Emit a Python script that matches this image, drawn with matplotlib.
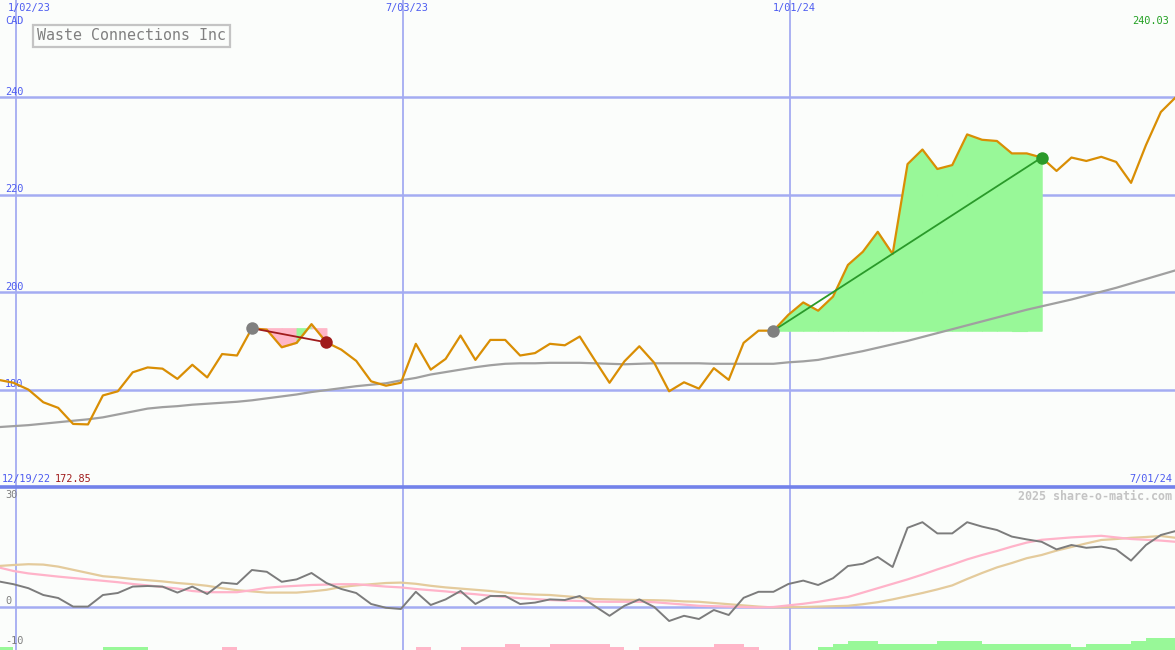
import numpy as np
import pandas as pd
import matplotlib
matplotlib.use('Agg')
import matplotlib.pyplot as plt

# weekly closes, Waste Connections (CAD)
dates = pd.date_range('2022-12-25', periods=80, freq='7D')
price = [182.0, 181.4, 180.0, 177.4, 176.25, 172.95, 172.85, 178.8, 179.65, 183.55,
         184.55, 184.3, 182.2, 185.1, 182.5, 187.3, 187.0, 192.6, 192.3, 188.7,
         189.6, 193.45, 189.7, 188.2, 185.9, 181.7, 180.8, 181.4, 189.4, 184.1,
         186.3, 191.1, 186.1, 190.2, 190.2, 187.0, 187.5, 189.4, 189.1, 190.9,
         186.1, 181.4, 185.8, 188.9, 185.5, 179.65, 181.5, 180.2, 184.4, 182.0,
         189.6, 192.1, 192.1, 195.35, 197.9, 196.2, 199.1, 205.6, 208.3, 212.4,
         207.85, 226.3, 229.3, 225.3, 226.1, 232.4, 231.3, 231.05, 228.5, 228.5,
         227.65, 224.9, 227.65, 226.95, 227.8, 226.75, 222.45, 230.2, 237.0, 240.03]
ma_line = [172.3, 172.5, 172.7, 173.0, 173.3, 173.6, 173.9, 174.3, 174.9, 175.5,
           176.1, 176.4, 176.6, 176.9, 177.1, 177.3, 177.5, 177.8, 178.2, 178.6,
           179.0, 179.5, 179.9, 180.3, 180.7, 181.0, 181.3, 181.9, 182.4, 183.1,
           183.6, 184.1, 184.6, 185.0, 185.3, 185.4, 185.4, 185.5, 185.5, 185.5,
           185.4, 185.3, 185.2, 185.3, 185.4, 185.4, 185.4, 185.4, 185.3, 185.3,
           185.3, 185.3, 185.3, 185.6, 185.8, 186.1, 186.7, 187.3, 187.9, 188.6,
           189.3, 190.0, 190.8, 191.6, 192.4, 193.2, 194.0, 194.8, 195.6, 196.4,
           197.1, 197.8, 198.5, 199.3, 200.1, 200.9, 201.8, 202.7, 203.6, 204.5]

# lower panel
osc = [6.4, 5.7, 4.7, 3.0, 2.25, 0.1, 0.1, 3.0, 3.5, 5.1,
       5.25, 5.1, 3.6, 5.1, 3.25, 6.1, 5.75, 9.25, 8.8, 6.3,
       6.9, 8.5, 6.0, 4.5, 3.5, 0.75, -0.2, -0.5, 3.8, 0.5,
       1.9, 4.0, 0.75, 2.75, 2.75, 0.75, 1.1, 1.9, 1.75, 2.75,
       0.25, -2.2, 0.3, 1.9, 0.0, -3.5, -2.2, -3.0, -0.75, -2.0,
       2.3, 3.8, 3.8, 5.75, 6.6, 5.5, 7.2, 10.25, 10.8, 12.5,
       10.0, 19.8, 21.2, 18.4, 18.4, 21.2, 20.1, 19.25, 17.6, 16.9,
       16.3, 14.4, 15.5, 14.8, 15.1, 14.4, 11.6, 15.5, 18.0, 19.0]
osc_fast = [9.9, 9.0, 8.4, 8.0, 7.6, 7.25, 6.9, 6.55, 6.2, 5.75,
            5.4, 5.0, 4.6, 4.0, 3.7, 3.7, 3.7, 4.2, 4.8, 5.1,
            5.3, 5.5, 5.6, 5.7, 5.7, 5.4, 5.1, 4.9, 4.5, 4.2,
            3.9, 3.5, 3.2, 2.8, 2.5, 2.2, 2.0, 1.75, 1.6, 1.5,
            1.35, 1.3, 1.3, 1.3, 1.2, 0.9, 0.6, 0.3, 0.2, 0.1,
            0.0, -0.1, 0.0, 0.4, 0.8, 1.3, 1.9, 2.5, 3.6, 4.7,
            5.8, 6.9, 8.1, 9.4, 10.6, 11.9, 13.0, 14.0, 15.1, 16.1,
            16.8, 17.1, 17.4, 17.6, 17.8, 17.4, 17.0, 16.8, 16.6, 16.3]
osc_slow = [10.25, 10.5, 10.7, 10.6, 10.1, 9.3, 8.5, 7.7, 7.4, 7.0,
            6.7, 6.4, 6.0, 5.7, 5.3, 4.7, 4.2, 3.9, 3.6, 3.6,
            3.6, 3.9, 4.3, 5.0, 5.4, 5.7, 6.0, 6.1, 5.8, 5.3,
            4.9, 4.6, 4.3, 4.0, 3.6, 3.3, 3.1, 3.0, 2.7, 2.4,
            2.0, 1.9, 1.8, 1.75, 1.7, 1.6, 1.4, 1.3, 1.0, 0.7,
            0.4, 0.1, -0.1, -0.05, 0.0, 0.1, 0.2, 0.3, 0.7, 1.2,
            1.9, 2.7, 3.5, 4.4, 5.4, 7.0, 8.5, 9.9, 11.0, 12.2,
            13.0, 14.1, 15.0, 15.9, 16.75, 17.0, 17.3, 17.5, 17.75, 17.3]
hist = [0.8, 0, 0, 0, 0, 0, 0, 0.8, 0.8, 0.8,
        0, 0, 0, 0, 0, -0.8, 0, 0, 0, 0,
        0, 0, 0, 0, 0, 0, 0, 0, -0.8, 0,
        0, -0.8, -0.8, -0.8, -1.5, -0.8, -0.8, -1.5, -1.5, -1.5,
        -1.5, -0.8, 0, -0.8, -0.8, -0.8, -0.8, -0.8, -1.5, -1.5,
        -0.8, 0, 0, 0, 0, 0.8, 1.5, 2.25, 2.25, 1.5,
        1.5, 1.5, 1.5, 2.25, 2.25, 2.25, 1.5, 1.5, 1.5, 1.5,
        1.5, 1.5, 0.8, 1.5, 1.5, 1.5, 2.25, 2.9, 2.9, 2.9]

# trades: (start index, end index)
trades = [(17, 22), (52, 70)]

price_ticks = [240, 220, 200, 180]
date_lines = ['2023-01-02', '2023-07-03', '2024-01-01']
date_texts = ['1/02/23', '7/03/23', '1/01/24']

bg = '#fbfdfb'
grid_c = '#a4acf2'
blue_txt = '#4d5cf0'
mono = 'DejaVu Sans Mono'

fig = plt.figure(figsize=(11.75, 6.5), dpi=100, facecolor=bg)
ax1 = fig.add_axes([0, 163 / 650, 1, 487 / 650], facecolor=bg)
ax2 = fig.add_axes([0, 0, 1, 163 / 650], facecolor=bg)

x0 = pd.Timestamp('2023-01-01') - pd.Timedelta(days=0.906 * 7)
x1 = pd.Timestamp('2023-01-01') + pd.Timedelta(days=77.95 * 7)
for ax in (ax1, ax2):
    ax.set_xlim(x0, x1)
    ax.set_xticks([])
    ax.set_yticks([])
    for s in ax.spines.values():
        s.set_visible(False)
    for d in date_lines:
        ax.axvline(pd.Timestamp(d), color=grid_c, lw=1.3, zorder=1)

ax1.set_ylim(160, 260)
ax2.set_ylim(-10.75, 30)

# main panel
for v in price_ticks:
    ax1.axhline(v, color=grid_c, lw=1.8, zorder=1)
    ax1.annotate(str(v), xy=(0, v), xycoords=('axes fraction', 'data'),
                 xytext=(3.6, 0.5), textcoords='offset points', va='bottom',
                 fontsize=7.4, family=mono, color=blue_txt)

price = np.array(price)
for i0, i1 in trades:
    lvl = price[i0]
    for j in range(i0, i1):
        col = '#98f898' if price[j + 1] >= lvl else '#ffb6c8'
        ax1.fill_between(dates[j:j + 2], lvl, price[j:j + 2], fc=col, ec=col, lw=0.8, zorder=2)

ax1.plot(dates, ma_line, color='#a0a0a0', lw=1.6, zorder=3)
ax1.plot(dates, price, color='#d98e04', lw=1.6, zorder=4)

for (i0, i1), lc in zip(trades, ['#a01c1c', '#2a9a2a']):
    ax1.plot([dates[i0], dates[i1]], [price[i0], price[i1]], color=lc, lw=1.3, zorder=5)
    ax1.plot(dates[i0], price[i0], 'o', color='#808080', ms=9, mew=0, zorder=6)
    ax1.plot(dates[i1], price[i1], 'o', color=lc, ms=9, mew=0, zorder=6)

ax1.text(37 / 1175, 1 - 36 / 487, 'Waste Connections Inc', transform=ax1.transAxes,
         va='center', ha='left', fontsize=10.8, family=mono, color='#808080',
         bbox=dict(boxstyle='square,pad=0.25', fc=bg, ec='#c4c4c4', lw=1.6), zorder=7)

# lower panel
ax2.axhline(0, color=grid_c, lw=1.8, zorder=1)
ax2.axhline(30, color='#7282ea', lw=2.6, zorder=8, clip_on=False)
hist = np.array(hist)
bar_cols = ['#98f898' if h > 0 else '#ffb6c8' for h in hist]
ax2.bar(dates, np.abs(hist), width=7, align='edge', bottom=-10.75, color=bar_cols, lw=0, zorder=2)
ax2.plot(dates, osc_slow, color='#e4cb9c', lw=1.6, zorder=3)
ax2.plot(dates, osc_fast, color='#ffb3c9', lw=1.6, zorder=3)
ax2.plot(dates, osc, color='#7c7c7c', lw=1.4, zorder=4)

ax2.annotate('30', xy=(0, 30), xycoords=('axes fraction', 'data'), xytext=(3.6, -2.5),
             textcoords='offset points', va='top', fontsize=7.4, family=mono, color='#808080')
for v in [0, -10]:
    ax2.annotate(str(v), xy=(0, v), xycoords=('axes fraction', 'data'), xytext=(3.6, 0.5),
                 textcoords='offset points', va='bottom', fontsize=7.4, family=mono, color='#808080')

# figure texts
def ftext(px, py, s, **kw):
    fig.text(px / 1175, 1 - py / 650, s, fontsize=7.4, family=mono, va='center', **kw)

ftext(8, 8, date_texts[0], color=blue_txt)
for d, s in zip(date_lines[1:], date_texts[1:]):
    xpix = ax1.transData.transform((matplotlib.dates.date2num(pd.Timestamp(d)), 200))[0]
    ftext(xpix + 4, 8, s, color=blue_txt, ha='center')
ftext(5, 21, 'CAD', color=blue_txt)
ftext(1169, 21, '240.03', color='#22a022', ha='right')
ftext(2, 479, '12/19/22', color=blue_txt)
ftext(55, 479, '172.85', color='#a01c1c')
ftext(1172, 479, '7/01/24', color=blue_txt, ha='right')
fig.text(1172 / 1175, 1 - 496 / 650, '2025 share-o-matic.com', fontsize=8.4, family=mono,
         va='center', ha='right', color='#c4c4c4', fontweight='bold')

fig.savefig('out.png', dpi=100, facecolor=bg)
